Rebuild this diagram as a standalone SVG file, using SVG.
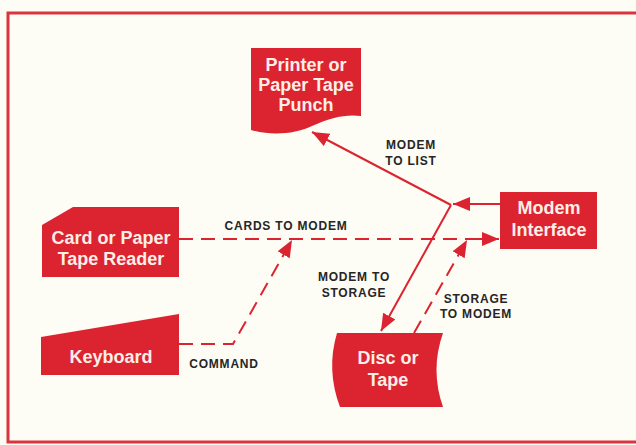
<svg xmlns="http://www.w3.org/2000/svg" width="636" height="445" viewBox="0 0 636 445">
<style>
.node{fill:#dc2430;}
.nt{font-family:"Liberation Sans",Arial,sans-serif;font-weight:bold;font-size:18px;fill:#fcefe8;text-anchor:middle;}
.lb{font-family:"Liberation Sans",Arial,sans-serif;font-weight:bold;font-size:12px;letter-spacing:0.8px;fill:#262626;text-anchor:middle;}
.c{fill:none;stroke:#dc2430;stroke-width:2;}
.d{stroke-dasharray:14 8;}
</style>
<defs>
<marker id="ah" viewBox="0 0 17 14" refX="17" refY="7" markerWidth="17" markerHeight="14" markerUnits="userSpaceOnUse" orient="auto">
<path d="M0,0 L17,7 L0,14 Z" fill="#dc2430"/>
</marker>
</defs>
<rect x="0" y="0" width="636" height="445" fill="#fdfcf5"/>
<rect x="8" y="13" width="640" height="429" fill="none" stroke="#d9343f" stroke-width="3"/>

<g id="printer">
<path class="node" d="M251,48 H361 V116 C345,114 330,118 312,126 C295,134 272,136 251,130 Z"/>
<text class="nt" x="306" y="71">Printer or</text>
<text class="nt" x="306" y="91">Paper Tape</text>
<text class="nt" x="306" y="111">Punch</text>
</g>
<g id="cardreader">
<path class="node" d="M73,207 H179 V277 H42 V225 Z"/>
<text class="nt" x="111" y="244">Card or Paper</text>
<text class="nt" x="111" y="265">Tape Reader</text>
</g>
<g id="keyboard">
<path class="node" d="M41,337 L179,314 V375 H41 Z"/>
<text class="nt" x="111" y="363">Keyboard</text>
</g>
<g id="modem">
<rect class="node" x="500" y="192" width="97" height="57"/>
<text class="nt" x="549" y="214">Modem</text>
<text class="nt" x="549" y="236">Interface</text>
</g>
<g id="disc">
<path class="node" d="M337,333 H443 Q430,370 443,407 H340 Q326,370 337,333 Z"/>
<text class="nt" x="388" y="364">Disc or</text>
<text class="nt" x="388" y="386">Tape</text>
</g>

<g id="connectors">
<path class="c d" d="M179,239 H467"/>
<path class="c" d="M467,239 H499" marker-end="url(#ah)"/>
<path class="c d" d="M179,344 H233 L292,240" marker-end="url(#ah)"/>
<path class="c" d="M500,204 H453" marker-end="url(#ah)"/>
<path class="c" d="M451,205 L312,132" marker-end="url(#ah)"/>
<path class="c" d="M451,205 L381,331" marker-end="url(#ah)"/>
<path class="c d" d="M414,333 L467,240" marker-end="url(#ah)"/>
</g>

<g id="labels">
<text class="lb" x="286" y="230">CARDS TO MODEM</text>
<text class="lb" x="411" y="149">MODEM</text>
<text class="lb" x="411" y="165">TO LIST</text>
<text class="lb" x="354" y="281">MODEM TO</text>
<text class="lb" x="354" y="297">STORAGE</text>
<text class="lb" x="476" y="303">STORAGE</text>
<text class="lb" x="476" y="318">TO MODEM</text>
<text class="lb" x="224" y="368">COMMAND</text>
</g>
</svg>
